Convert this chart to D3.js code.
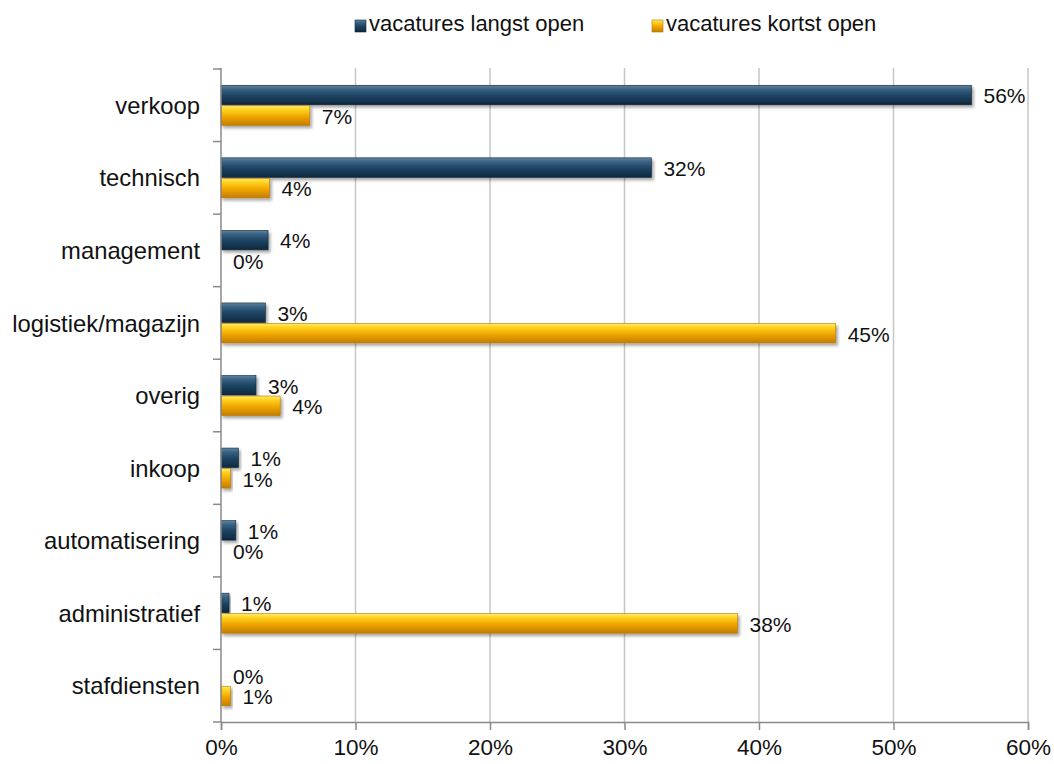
<!DOCTYPE html>
<html><head><meta charset="utf-8">
<script src="https://cdn.jsdelivr.net/npm/d3@7"></script>
<style>body{margin:0;background:#fff}svg{display:block;font-family:"Liberation Sans",Arial,sans-serif}</style>
</head><body><svg id="c" width="1054" height="764"></svg>
<script>
const categories = ["verkoop","technisch","management","logistiek/magazijn","overig","inkoop","automatisering","administratief","stafdiensten"];
const seriesNames = ["vacatures langst open","vacatures kortst open"];
const longOpen  = [55.8, 32.0, 3.5, 3.3, 2.6, 1.3, 1.1, 0.6, 0];
const shortOpen = [6.6, 3.6, 0, 45.7, 4.4, 0.7, 0, 38.4, 0.7];
const longLabels  = ["56%","32%","4%","3%","3%","1%","1%","1%","0%"];
const shortLabels = ["7%","4%","0%","45%","4%","1%","0%","38%","1%"];
const xTicks = [0,10,20,30,40,50,60];

const svg = d3.select("#c");
const m = {l:221, r:1028, t:69, b:722};
const x = d3.scaleLinear().domain([0,60]).range([m.l, m.r]);
const y = d3.scaleBand().domain(categories).range([m.t, m.b]);
const pair = 40;
const y1 = d3.scaleBand().domain(["long","short"]).range([0, pair]).paddingInner(0.05);

const defs = svg.append("defs");
function grad(id, stops){
  const g = defs.append("linearGradient").attr("id",id).attr("x1",0).attr("y1",0).attr("x2",0).attr("y2",1);
  stops.forEach(s=>g.append("stop").attr("offset",s[0]).attr("stop-color",s[1]));
}
grad("gNavy",[[0,"#5f84a2"],[0.2,"#3a6283"],[0.5,"#1f4665"],[1,"#0d283e"]]);
grad("gOrange",[[0,"#ffec6a"],[0.2,"#ffd21f"],[0.55,"#f0a600"],[1,"#c47c00"]]);
const f = defs.append("filter").attr("id","sh").attr("x","-10%").attr("y","-30%").attr("width","130%").attr("height","180%");
f.append("feDropShadow").attr("dx",2).attr("dy",2.5).attr("stdDeviation",1.6).attr("flood-color","#000").attr("flood-opacity",0.35);

// gridlines
svg.append("g").selectAll("line").data(xTicks.slice(1)).join("line")
  .attr("x1",d=>x(d)).attr("x2",d=>x(d)).attr("y1",m.t-1).attr("y2",m.b)
  .attr("stroke","#c6c6c6").attr("stroke-width",1.5);

// bars
const series = [
  {key:"long", vals:longOpen, labels:longLabels, fill:"url(#gNavy)", edge:"#0e2537"},
  {key:"short", vals:shortOpen, labels:shortLabels, fill:"url(#gOrange)", edge:"#b87400"}
];
const off = (y.bandwidth()-pair)/2;
series.forEach(s=>{
  const g = svg.append("g");
  categories.forEach((c,i)=>{
    const v = s.vals[i];
    const by = y(c)+off+y1(s.key);
    if(v>0){
      g.append("rect").attr("x",x(0)).attr("y",by).attr("width",x(v)-x(0)).attr("height",y1.bandwidth())
        .attr("fill",s.fill).attr("stroke",s.edge).attr("stroke-width",0.6).attr("filter","url(#sh)");
    }
    g.append("text").attr("x",x(v)+12).attr("y",by+y1.bandwidth()/2+1).attr("dy","0.35em")
      .attr("font-size",21).attr("fill","#111").text(s.labels[i]);
  });
});

// axes
const ax = svg.append("g").attr("transform",`translate(0,${m.b})`)
  .call(d3.axisBottom(x).tickValues(xTicks).tickFormat(d=>d+"%").tickSize(8).tickPadding(9));
ax.select(".domain").attr("stroke","#8a8a8a").attr("stroke-width",1.5);
ax.selectAll(".tick line").attr("stroke","#8a8a8a").attr("stroke-width",1.5);
ax.selectAll("text").attr("font-size",22.5).attr("fill","#111").attr("font-family","Liberation Sans, Arial, sans-serif");

const yBounds = categories.map(c=>y(c)).concat([m.b]);
const ay = svg.append("g");
ay.append("line").attr("x1",m.l).attr("x2",m.l).attr("y1",m.t-1).attr("y2",m.b).attr("stroke","#8a8a8a").attr("stroke-width",1.5);
ay.selectAll("line.t").data(yBounds).join("line").attr("class","t")
  .attr("x1",m.l-8).attr("x2",m.l).attr("y1",d=>d).attr("y2",d=>d).attr("stroke","#8a8a8a").attr("stroke-width",1.5);
ay.selectAll("text").data(categories).join("text")
  .attr("x",200).attr("y",d=>y(d)+y.bandwidth()/2).attr("dy","0.36em").attr("text-anchor","end")
  .attr("font-size",23.8).attr("fill","#111").text(d=>d);

// legend
const lg = svg.append("g");
const lx = [355, 652];
seriesNames.forEach((n,i)=>{
  lg.append("rect").attr("x",lx[i]).attr("y",20).attr("width",11).attr("height",12)
    .attr("fill",i?"url(#gOrange)":"url(#gNavy)").attr("stroke",i?"#b87400":"#0e2537").attr("stroke-width",0.6);
  lg.append("text").attr("x",lx[i]+14).attr("y",31).attr("font-size",22).attr("fill","#111").text(n);
});
</script></body></html>
